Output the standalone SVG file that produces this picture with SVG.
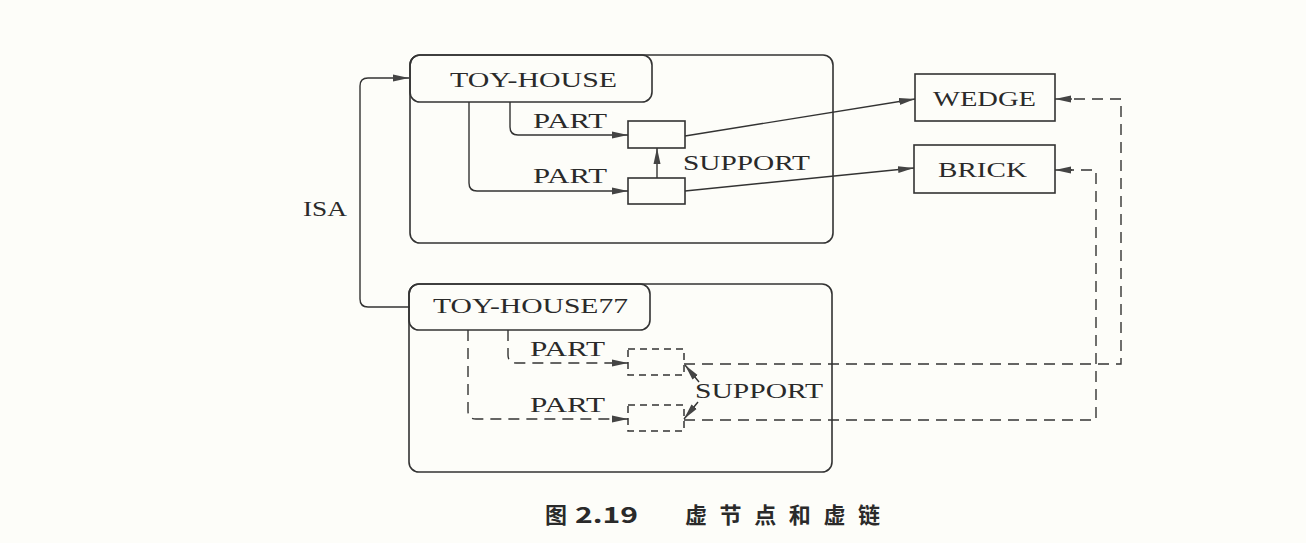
<svg xmlns="http://www.w3.org/2000/svg" width="1306" height="543" viewBox="0 0 1306 543">
<defs>
<style>
.box{fill:none;stroke:#333;stroke-width:1.6}
.dbox{fill:none;stroke:#333;stroke-width:1.5;stroke-dasharray:7 5}
.ln{fill:none;stroke:#333;stroke-width:1.4}
.dl{fill:none;stroke:#333;stroke-width:1.4;stroke-dasharray:11 7}
.t{font-family:"Liberation Serif","Times New Roman",serif;font-size:22px;fill:#2a2a2a}
.cap{font-family:"Noto Sans CJK SC",sans-serif;font-size:22px;font-weight:700;fill:#2a2a2a}
</style>
<marker id="ar" markerUnits="userSpaceOnUse" markerWidth="16" markerHeight="10" viewBox="0 0 16 10" refX="16" refY="5" orient="auto">
<path d="M0,1.5 L16,5 L0,8.5 Z" fill="#444"/>
</marker>
</defs>
<rect width="1306" height="543" fill="#fdfdf9"/>

<g id="toy-house">
<rect class="box" x="410" y="55" width="423" height="188" rx="10"/>
<rect class="box" x="410" y="55" width="242" height="47" rx="10"/>
<text class="t" x="450" y="87" textLength="167" lengthAdjust="spacingAndGlyphs">TOY-HOUSE</text>
</g>
<g id="part1">
<rect class="box" x="628" y="121" width="57" height="27"/>
</g>
<g id="part2">
<rect class="box" x="628" y="178" width="57" height="26"/>
</g>
<g id="wedge">
<rect class="box" x="915" y="74" width="140" height="47"/>
<text class="t" x="933" y="106" textLength="103" lengthAdjust="spacingAndGlyphs">WEDGE</text>
</g>
<g id="brick">
<rect class="box" x="914" y="145" width="141" height="48"/>
<text class="t" x="938" y="177" textLength="89" lengthAdjust="spacingAndGlyphs">BRICK</text>
</g>
<g id="toy-house77">
<rect class="box" x="409" y="284" width="423" height="188" rx="10"/>
<rect class="box" x="409" y="284" width="241" height="46" rx="10"/>
<text class="t" x="433" y="313" textLength="195" lengthAdjust="spacingAndGlyphs">TOY-HOUSE77</text>
</g>
<g id="vpart1">
<rect class="dbox" x="628" y="349" width="56" height="26"/>
</g>
<g id="vpart2">
<rect class="dbox" x="628" y="405" width="56" height="26"/>
</g>

<g id="connectors">
<path class="ln" d="M410,307 H368 Q360,307 360,299 V86 Q360,78 368,78 H409" marker-end="url(#ar)"/>
<path class="ln" d="M510,102 V127 Q510,135 518,135 H628" marker-end="url(#ar)"/>
<path class="ln" d="M469,102 V183 Q469,191 477,191 H628" marker-end="url(#ar)"/>
<path class="ln" d="M657,178 V148" marker-end="url(#ar)"/>
<path class="ln" d="M685,136 L915,99" marker-end="url(#ar)"/>
<path class="ln" d="M685,191 L914,168" marker-end="url(#ar)"/>
<path class="dl" d="M508,330 V355 Q508,363 516,363 H614"/>
<path class="ln" d="M614,363 H628" marker-end="url(#ar)"/>
<path class="dl" d="M468,330 V411 Q468,419 476,419 H614"/>
<path class="ln" d="M614,419 H628" marker-end="url(#ar)"/>
<path class="ln" d="M699,382 L685,365" marker-end="url(#ar)"/>
<path class="ln" d="M698,402 L684,419" marker-end="url(#ar)"/>
<path class="dl" d="M684,364 H1121 V99 H1070"/>
<path class="ln" d="M1072,99 H1055" marker-end="url(#ar)"/>
<path class="dl" d="M684,420 H1096 V170 H1070"/>
<path class="ln" d="M1072,170 H1055" marker-end="url(#ar)"/>
<text class="t" x="303" y="216" textLength="44" lengthAdjust="spacingAndGlyphs">ISA</text>
<text class="t" x="533" y="128" textLength="74" lengthAdjust="spacingAndGlyphs">PART</text>
<text class="t" x="533" y="183" textLength="74" lengthAdjust="spacingAndGlyphs">PART</text>
<text class="t" x="683" y="170" textLength="127" lengthAdjust="spacingAndGlyphs">SUPPORT</text>
<text class="t" x="530" y="356" textLength="75" lengthAdjust="spacingAndGlyphs">PART</text>
<text class="t" x="530" y="412" textLength="75" lengthAdjust="spacingAndGlyphs">PART</text>
<text class="t" x="695" y="398" textLength="128" lengthAdjust="spacingAndGlyphs">SUPPORT</text>
</g>

<text class="cap" x="545" y="523">图</text>
<text class="cap" x="575" y="523" textLength="63" lengthAdjust="spacingAndGlyphs">2.19</text>
<text class="cap" x="685" y="523" textLength="195" lengthAdjust="spacing">虚节点和虚链</text>
</svg>
